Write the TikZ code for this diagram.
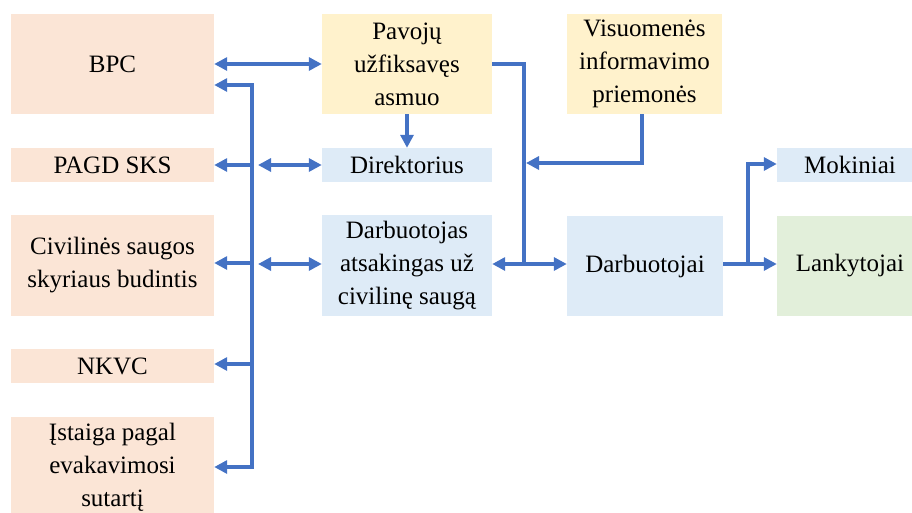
\documentclass[tikz,border=0pt]{standalone}
\usepackage{fontspec}
\setmainfont{Liberation Serif}
\usetikzlibrary{arrows.meta}
\definecolor{salmon}{HTML}{FBE5D6}
\definecolor{yel}{HTML}{FFF2CC}
\definecolor{lblue}{HTML}{DEEBF7}
\definecolor{lgreen}{HTML}{E2EFDA}
\definecolor{lin}{HTML}{4472C4}
\tikzset{
  box/.style={inner sep=0pt, align=center, font=\fontsize{25}{33}\selectfont, text=black},
  redbox/.style={box, fill=salmon, minimum width=203pt},
  yelbox/.style={box, fill=yel},
  bluebox/.style={box, fill=lblue},
  greenbox/.style={box, fill=lgreen},
  conn/.style={draw=lin, line width=3.2pt},
  arr/.style={conn, -{Triangle[length=13pt,width=13pt]}},
  darr/.style={conn, {Triangle[length=13pt,width=13pt]}-{Triangle[length=13pt,width=13pt]}},
}
\begin{document}
\begin{tikzpicture}[x=1pt,y=-1pt]
\useasboundingbox (0,0) rectangle (912,512);
\clip (0,0) rectangle (912,512);
% left column
\node[redbox, minimum height=100pt] (bpc) at (112.5,64) {BPC};
\node[redbox, minimum height=34pt] (pagd) at (112.5,165) {PAGD SKS};
\node[redbox, minimum height=101pt] (civ) at (112.5,265.5) {Civilinės saugos\\skyriaus budintis};
\node[redbox, minimum height=34pt] (nkvc) at (112.5,366) {NKVC};
\node[redbox, minimum height=100pt] (ist) at (112.5,467) {Įstaiga pagal\\evakavimosi\\sutartį};
% middle column
\node[yelbox, minimum width=170pt, minimum height=100pt] (pav) at (407,64) {Pavojų\\užfiksavęs\\asmuo};
\node[bluebox, minimum width=170pt, minimum height=34pt] (dir) at (407,165) {Direktorius};
\node[bluebox, minimum width=170pt, minimum height=101pt] (dcs) at (407,265.5) {Darbuotojas\\atsakingas už\\civilinę saugą};
% right
\node[yelbox, minimum width=155pt, minimum height=100pt] (vis) at (644.5,64) {Visuomenės\\informavimo\\priemonės};
\node[bluebox, minimum width=156pt, minimum height=100pt] (dbt) at (645,266) {Darbuotojai};
\node[bluebox, minimum width=146pt, minimum height=34pt] (mok) at (850,165) {Mokiniai};
\node[greenbox, minimum width=146pt, minimum height=100pt] (lan) at (850,266) {Lankytojai};
% bus coordinates
\coordinate (bt) at (252,85);
\coordinate (bb) at (252,467);
\coordinate (b1) at (252,165);
\coordinate (b2) at (252,263);
\coordinate (b3) at (252,364);
\coordinate (d1) at (258,165);
\coordinate (d2) at (258,264);
\coordinate (j1) at (524,64);
\coordinate (j2) at (524,264);
\coordinate (v1) at (642,163);
\coordinate (v0) at (642,114);
\coordinate (vt) at (526,163);
\coordinate (r1) at (748,264);
\coordinate (r2) at (748,164);
% connectors
\draw[darr] (bpc.east) -- (pav.west);
\draw[darr] (ist.east) -- (bb) -- (bt) -- (bt -| bpc.east);
\draw[arr] (b1) -- (b1 -| pagd.east);
\draw[arr] (b2) -- (b2 -| civ.east);
\draw[arr] (b3) -- (b3 -| nkvc.east);
\draw[darr] (d1) -- (d1 -| dir.west);
\draw[darr] (d2) -- (d2 -| dcs.west);
\draw[arr] (pav.south) -- (dir.north);
\draw[conn] (pav.east) -- (j1) -- (j2);
\draw[darr] (j2 -| dcs.east) -- (j2 -| dbt.west);
\draw[arr] (v0) -- (v1) -- (vt);
\draw[arr] (r1 -| dbt.east) -- (r1 -| lan.west);
\draw[arr] (r1) -- (r2) -- (r2 -| mok.west);
\end{tikzpicture}
\end{document}
